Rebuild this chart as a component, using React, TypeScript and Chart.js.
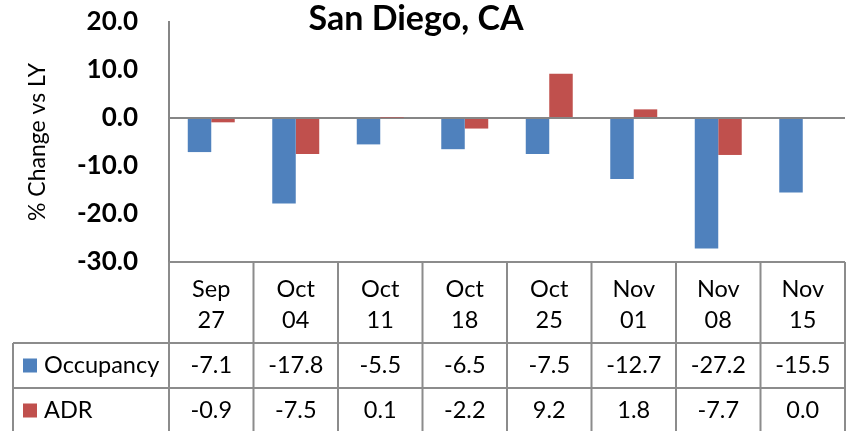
import React, { useEffect, useRef } from 'react';
import { Chart, registerables } from 'chart.js';
Chart.register(...registerables);

const chartTitle = 'San Diego, CA';
const yAxisTitle = '% Change vs LY';
const categories: string[][] = [
  ['Sep', '27'], ['Oct', '04'], ['Oct', '11'], ['Oct', '18'],
  ['Oct', '25'], ['Nov', '01'], ['Nov', '08'], ['Nov', '15'],
];
const occupancy = [-7.1, -17.8, -5.5, -6.5, -7.5, -12.7, -27.2, -15.5];
const adr = [-0.9, -7.5, 0.1, -2.2, 9.2, 1.8, -7.7, 0.0];
const seriesNames = ['Occupancy', 'ADR'];
const seriesColors = ['#4F81BD', '#C0504D'];
const yMin = -30;
const yMax = 20;
const yStep = 10;

const FONT = 'Lato, "Open Sans", sans-serif';
const LINE = '#8c8c8c';

const tablePlugin = {
  id: 'dataTableAndTitle',
  afterDraw(chart: any) {
    const { ctx, chartArea } = chart;
    const xs = chart.scales.x;
    const n = categories.length;
    const colW = (chartArea.right - chartArea.left) / n;
    const top = chartArea.bottom;
    const row1 = top + 81;
    const row2 = row1 + 45;
    const bottom = chart.height;
    const legendLeft = 13;
    ctx.save();
    // title
    ctx.fillStyle = '#000';
    ctx.font = `bold 34px ${FONT}`;
    ctx.textAlign = 'center';
    ctx.textBaseline = 'middle';
    ctx.fillText(chartTitle, 416, 19);

    // grid lines
    ctx.strokeStyle = LINE;
    ctx.lineWidth = 2;
    ctx.beginPath();
    ctx.moveTo(chartArea.left, top); ctx.lineTo(chartArea.right, top);
    ctx.moveTo(legendLeft, row1); ctx.lineTo(chartArea.right, row1);
    ctx.moveTo(legendLeft, row2); ctx.lineTo(chartArea.right, row2);
    ctx.moveTo(legendLeft, row1); ctx.lineTo(legendLeft, bottom);
    for (let i = 0; i <= n; i++) {
      const xx = chartArea.left + i * colW;
      ctx.moveTo(xx, top); ctx.lineTo(xx, bottom);
    }
    ctx.stroke();

    // header
    ctx.font = `23.5px ${FONT}`;
    ctx.fillStyle = '#000';
    categories.forEach((c, i) => {
      const cx = xs.getPixelForValue(i);
      ctx.fillText(c[0], cx, top + 27);
      ctx.fillText(c[1], cx, top + 58);
    });
    const rows = [occupancy, adr];
    const rowY = [(row1 + row2) / 2, (row2 + bottom) / 2 + 1];
    rows.forEach((vals, r) => {
      vals.forEach((v, i) => {
        const cx = xs.getPixelForValue(i);
        ctx.fillText(v.toFixed(1), cx, rowY[r]);
      });
      ctx.fillStyle = seriesColors[r];
      ctx.fillRect(legendLeft + 10, rowY[r] - 7, 14, 14);
      ctx.fillStyle = '#000';
      ctx.textAlign = 'left';
      ctx.fillText(seriesNames[r], legendLeft + 31, rowY[r]);
      ctx.textAlign = 'center';
    });
    ctx.restore();
  },
};

export default function App() {
  const ref = useRef<HTMLCanvasElement>(null);
  useEffect(() => {
    document.body.style.margin = '0';
    const chart = new Chart(ref.current!, {
      type: 'bar',
      data: {
        labels: categories.map((c) => c.join(' ')),
        datasets: [
          { label: seriesNames[0], data: occupancy, backgroundColor: seriesColors[0], barPercentage: 1, categoryPercentage: 0.556 },
          { label: seriesNames[1], data: adr, backgroundColor: seriesColors[1], barPercentage: 1, categoryPercentage: 0.556 },
        ],
      },
      options: {
        responsive: false,
        animation: false,
        layout: { padding: { top: 22, bottom: 169, right: 3, left: 0 } },
        plugins: { legend: { display: false }, title: { display: false }, tooltip: { enabled: false } },
        scales: {
          x: { display: false },
          y: {
            min: yMin,
            max: yMax,
            afterFit: (s: any) => { s.width = 169; },
            ticks: {
              stepSize: yStep,
              padding: 2,
              color: '#000',
              font: { family: FONT, size: 26, weight: 'bold' },
              callback: (v: any) => Number(v).toFixed(1),
            },
            grid: {
              drawTicks: true,
              tickLength: 29,
              tickColor: 'rgba(0,0,0,0)',
              lineWidth: 2,
              color: (c: any) => (c.tick && c.tick.value === 0 ? '#868686' : 'rgba(0,0,0,0)'),
            },
            border: { display: true, color: '#868686', width: 2 },
            title: {
              display: true,
              text: yAxisTitle,
              color: '#000',
              font: { family: FONT, size: 23 },
              padding: { top: 24, bottom: 0 },
            },
          },
        },
      },
      plugins: [tablePlugin],
    });
    return () => chart.destroy();
  }, []);
  return (
    <div style={{ position: 'fixed', left: 0, top: 0, width: 848, height: 431 }}>
      <canvas ref={ref} width={848} height={431} />
    </div>
  );
}
